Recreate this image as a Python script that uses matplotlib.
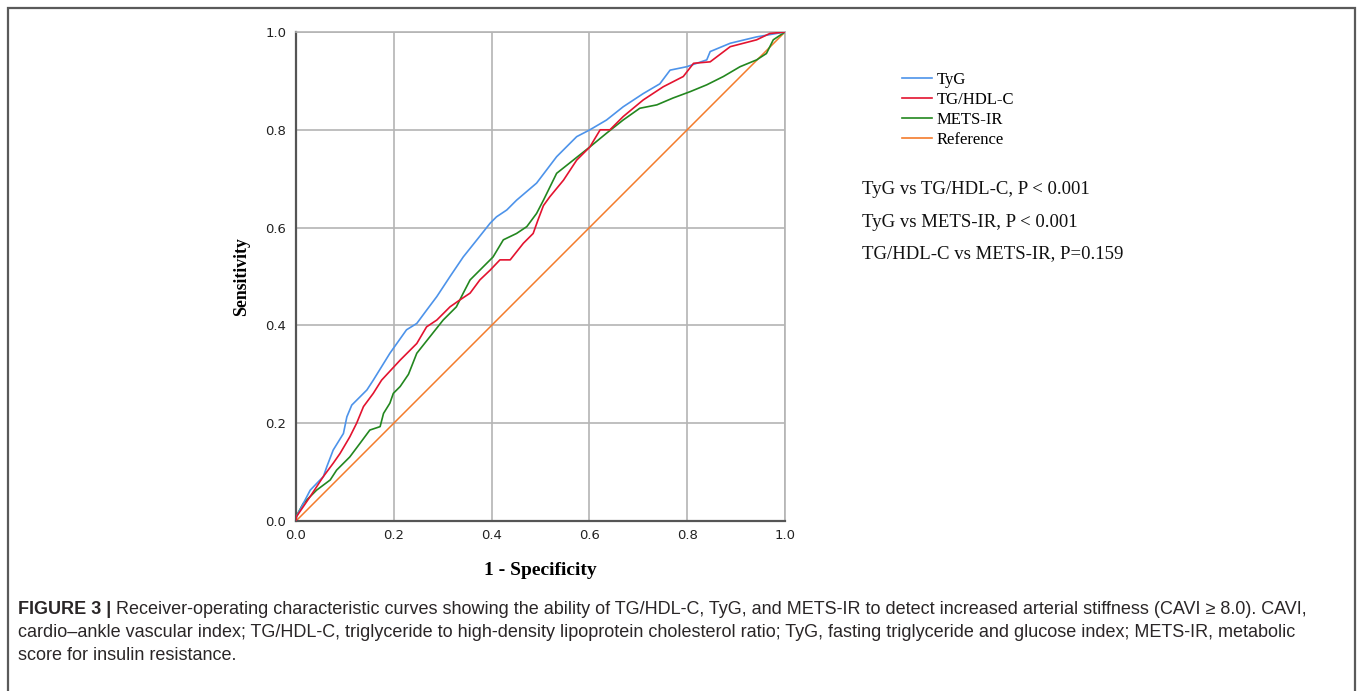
import matplotlib
matplotlib.use("Agg")
import matplotlib.pyplot as plt
from matplotlib.patches import Rectangle

# ---------------- data ----------------
tyg_fpr = [0.0, 0.001, 0.029, 0.056, 0.063, 0.076, 0.097, 0.104, 0.114, 0.145, 0.158, 0.192,
           0.226, 0.247, 0.267, 0.288, 0.315, 0.342, 0.370, 0.397, 0.410, 0.431, 0.451, 0.492,
           0.533, 0.574, 0.601, 0.635, 0.669, 0.710, 0.744, 0.765, 0.799, 0.840, 0.847, 0.888,
           0.942, 1.0]
tyg_tpr = [0.0, 0.009, 0.063, 0.091, 0.111, 0.145, 0.179, 0.213, 0.237, 0.268, 0.288, 0.343,
           0.391, 0.404, 0.431, 0.459, 0.500, 0.540, 0.575, 0.609, 0.622, 0.636, 0.656, 0.691,
           0.745, 0.786, 0.800, 0.820, 0.847, 0.874, 0.894, 0.922, 0.929, 0.943, 0.960, 0.977,
           0.990, 1.0]

tghdl_fpr = [0.0, 0.001, 0.029, 0.056, 0.076, 0.090, 0.110, 0.124, 0.138, 0.158, 0.175, 0.213,
             0.247, 0.267, 0.288, 0.315, 0.335, 0.356, 0.376, 0.397, 0.417, 0.438, 0.465, 0.485,
             0.495, 0.506, 0.519, 0.547, 0.574, 0.601, 0.622, 0.642, 0.669, 0.710, 0.751, 0.792,
             0.813, 0.847, 0.888, 0.942, 0.969, 1.0]
tghdl_tpr = [0.0, 0.009, 0.050, 0.091, 0.118, 0.138, 0.172, 0.200, 0.234, 0.261, 0.288, 0.329,
             0.363, 0.397, 0.411, 0.438, 0.452, 0.466, 0.493, 0.513, 0.534, 0.534, 0.568, 0.588,
             0.616, 0.645, 0.663, 0.697, 0.738, 0.765, 0.800, 0.800, 0.827, 0.861, 0.888, 0.909,
             0.936, 0.939, 0.970, 0.984, 0.997, 1.0]

mets_fpr = [0.0, 0.0, 0.015, 0.042, 0.070, 0.083, 0.110, 0.131, 0.151, 0.172, 0.179, 0.192,
            0.199, 0.213, 0.230, 0.247, 0.274, 0.301, 0.328, 0.342, 0.356, 0.383, 0.403, 0.424,
            0.451, 0.472, 0.492, 0.506, 0.533, 0.567, 0.601, 0.635, 0.669, 0.703, 0.738, 0.771,
            0.806, 0.840, 0.874, 0.908, 0.942, 0.962, 0.976, 1.0]
mets_tpr = [0.0, 0.009, 0.036, 0.063, 0.084, 0.104, 0.131, 0.159, 0.186, 0.193, 0.220, 0.241,
            0.261, 0.275, 0.300, 0.343, 0.377, 0.411, 0.438, 0.466, 0.493, 0.520, 0.540, 0.575,
            0.588, 0.602, 0.629, 0.656, 0.711, 0.738, 0.765, 0.793, 0.820, 0.844, 0.851, 0.865,
            0.878, 0.892, 0.909, 0.929, 0.943, 0.956, 0.984, 1.0]

ref_fpr = [0.0, 1.0]
ref_tpr = [0.0, 1.0]

series_labels = ["TyG", "TG/HDL-C", "METS-IR", "Reference"]
ticks = [0.0, 0.2, 0.4, 0.6, 0.8, 1.0]
tick_labels = ["0.0", "0.2", "0.4", "0.6", "0.8", "1.0"]
pvalue_lines = ["TyG vs TG/HDL-C, P < 0.001",
                "TyG vs METS-IR, P < 0.001",
                "TG/HDL-C vs METS-IR, P=0.159"]
caption_bold = "FIGURE 3 | "
caption_lines = [
    "Receiver-operating characteristic curves showing the ability of TG/HDL-C, TyG, and METS-IR to detect increased arterial stiffness (CAVI \u2265 8.0). CAVI,",
    "cardio\u2013ankle vascular index; TG/HDL-C, triglyceride to high-density lipoprotein cholesterol ratio; TyG, fasting triglyceride and glucose index; METS-IR, metabolic",
    "score for insulin resistance.",
]

# ---------------- figure ----------------
W, H = 1357, 691
fig = plt.figure(figsize=(W / 100, H / 100), dpi=100)

def fx(px):
    return px / W

def fy(py):
    return 1 - py / H

# outer frame (open at the bottom edge of the image)
fig.patches.append(Rectangle((fx(8), fy(700)), fx(1355) - fx(8), fy(8) - fy(700),
                             transform=fig.transFigure, fill=False,
                             edgecolor="#5a5a5a", linewidth=1.6))

ax = fig.add_axes([fx(296), fy(521), fx(785) - fx(296), fy(32) - fy(521)])

c_blue = "#4d93ea"
c_red = "#e3132f"
c_green = "#23871f"
c_orange = "#f47b2c"

l1, = ax.plot(tyg_fpr, tyg_tpr, color=c_blue, lw=1.2, label=series_labels[0], zorder=4)
l2, = ax.plot(tghdl_fpr, tghdl_tpr, color=c_red, lw=1.2, label=series_labels[1], zorder=5)
l3, = ax.plot(mets_fpr, mets_tpr, color=c_green, lw=1.2, label=series_labels[2], zorder=3)
l4, = ax.plot(ref_fpr, ref_tpr, color=c_orange, lw=1.1, label=series_labels[3], zorder=2)

ax.set_xlim(0, 1)
ax.set_ylim(0, 1)
ax.set_xticks(ticks)
ax.set_yticks(ticks)
ax.set_xticklabels(tick_labels)
ax.set_yticklabels(tick_labels)
ax.tick_params(axis="both", length=0, labelsize=9.5, colors="#222222")
ax.tick_params(axis="x", pad=6)
ax.tick_params(axis="y", pad=7)
ax.grid(True, color="#b4b4b4", linewidth=1.2)
ax.set_axisbelow(True)
for s in ["top", "right"]:
    ax.spines[s].set_color("#b4b4b4")
    ax.spines[s].set_linewidth(1.2)
for s in ["left", "bottom"]:
    ax.spines[s].set_color("#555555")
    ax.spines[s].set_linewidth(1.6)

serif = ["Liberation Serif", "DejaVu Serif"]
ax.set_xlabel("1 - Specificity", fontfamily=serif, fontweight="bold", fontsize=14,
              labelpad=14)
ax.set_ylabel("Sensitivity", fontfamily=serif, fontweight="bold", fontsize=12.8,
              labelpad=11)

leg = fig.legend(handles=[l1, l2, l3, l4], labels=series_labels,
                 loc="upper left", bbox_to_anchor=(fx(902), fy(72)),
                 frameon=False, borderpad=0, borderaxespad=0,
                 handlelength=1.8, handletextpad=0.3, labelspacing=0.24,
                 prop={"family": serif, "size": 12})
for h in leg.get_lines():
    h.set_linewidth(1.2)

for i, t in enumerate(pvalue_lines):
    fig.text(fx(862), fy(190 + 32 * i), t, fontfamily=serif, fontsize=13.5,
             va="center", ha="left", color="#111111")

# caption
sans = ["Liberation Sans", "DejaVu Sans"]
cap_size = 12.2
cap_color = "#2a2627"
baselines = [614, 637, 660]
fig.canvas.draw()
r = fig.canvas.get_renderer()
tb = fig.text(fx(18), fy(baselines[0]), caption_bold, fontfamily=sans, fontweight="bold",
              fontsize=cap_size, va="baseline", ha="left", color=cap_color)
t_lines = []
for i, line in enumerate(caption_lines):
    t = fig.text(fx(18), fy(baselines[i]), line, fontfamily=sans, fontsize=cap_size,
                 va="baseline", ha="left", color=cap_color)
    t_lines.append(t)

# fit the first caption line to its width in the reference (18 -> 1305 px)
target = 1305 - 18
bw = tb.get_window_extent(r).width
lw1 = t_lines[0].get_window_extent(r).width
scale = target / (bw + lw1)
new = cap_size * scale
tb.set_fontsize(new)
for t in t_lines:
    t.set_fontsize(new)
bw = tb.get_window_extent(r).width
t_lines[0].set_x(fx(18 + bw))

fig.savefig("out.png", dpi=100, facecolor="white")
